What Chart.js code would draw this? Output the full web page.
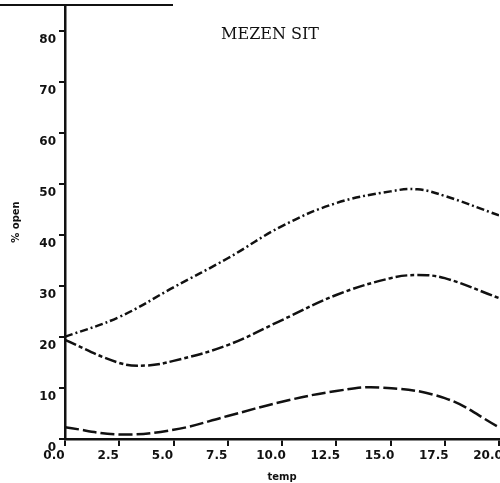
<!DOCTYPE html>
<html>
<head>
<meta charset="utf-8">
<script src="https://cdn.jsdelivr.net/npm/chart.js@4/dist/chart.umd.min.js"></script>
<style>
  html, body { margin: 0; padding: 0; background: #fff; }
  #wrap { width: 500px; height: 483px; }
</style>
</head>
<body>
<div id="wrap"><canvas id="c" width="500" height="483"></canvas></div>
<script>
// values
const upperTemp = [0, 2.5, 5, 7.5, 10, 12.5, 15, 16.25, 17.5, 20];
const upperOpen = [20.0, 23.9, 29.7, 35.4, 41.7, 46.2, 48.5, 48.9, 47.6, 43.8];

const middleTemp = [0, 2.5, 3.75, 5, 7.5, 10, 12.5, 15, 16.25, 17.5, 20];
const middleOpen = [19.4, 14.9, 14.4, 15.3, 18.4, 23.3, 28.2, 31.5, 32.1, 31.5, 27.6];

const lowerTemp = [0, 2.5, 5, 7.5, 10, 12.5, 14.5, 17.5, 20];
const lowerOpen = [2.3, 0.9, 1.8, 4.5, 7.3, 9.4, 10.1, 8.0, 2.3];

const xTicks = [0, 2.5, 5, 7.5, 10, 12.5, 15, 17.5, 20];
const yTicks = [0, 10, 20, 30, 40, 50, 60, 70, 80];

const toPoints = (xs, ys) => xs.map((x, i) => ({ x, y: ys[i] }));

const tickFont = { family: 'DejaVu Sans', size: 12, weight: 'bold' };
const titleFont = { family: 'DejaVu Sans', size: 10, weight: 'bold' };

// title inside the plot and the cut-off caption rule at the very top
const decor = {
    id: 'decor',
    afterDraw(chart) {
        const { ctx, scales } = chart;
        ctx.save();
        ctx.fillStyle = '#111';
        ctx.font = '16px "DejaVu Serif"';
        ctx.textAlign = 'center';
        ctx.textBaseline = 'middle';
        ctx.fillText('MEZEN SIT', scales.x.getPixelForValue(9.45), scales.y.getPixelForValue(79.1));
        ctx.strokeStyle = '#111';
        ctx.lineWidth = 2;
        ctx.beginPath();
        ctx.moveTo(0, 5);
        ctx.lineTo(173, 5);
        ctx.stroke();
        ctx.restore();
    }
};

new Chart(document.getElementById('c').getContext('2d'), {
    type: 'line',
    data: {
        datasets: [
            {
                label: 'upper',
                data: toPoints(upperTemp, upperOpen),
                borderColor: '#111',
                borderWidth: 2.5,
                borderDash: [8, 3, 2, 3],
                pointRadius: 0,
                tension: 0.4,
                fill: false,
            },
            {
                label: 'middle',
                data: toPoints(middleTemp, middleOpen),
                borderColor: '#111',
                borderWidth: 2.5,
                borderDash: [12, 3, 4, 3],
                pointRadius: 0,
                tension: 0.4,
                fill: false,
            },
            {
                label: 'lower',
                data: toPoints(lowerTemp, lowerOpen),
                borderColor: '#111',
                borderWidth: 2.5,
                borderDash: [14, 4],
                pointRadius: 0,
                tension: 0.4,
                fill: false,
            },
        ]
    },
    options: {
        responsive: false,
        maintainAspectRatio: false,
        animation: false,
        layout: { padding: { top: 5, right: 1, bottom: 0, left: 10 } },
        scales: {
            x: {
                type: 'linear',
                min: 0,
                max: 20,
                afterBuildTicks: (s) => { s.ticks = xTicks.map(v => ({ value: v })); },
                afterFit: (s) => { s.height = 44; s.paddingLeft = 0; s.paddingRight = 0; },
                ticks: {
                    color: '#111',
                    font: tickFont,
                    padding: 3,
                    labelOffset: -11,
                    maxRotation: 0,
                    callback: (v) => Number(v).toFixed(1),
                },
                grid: { drawOnChartArea: false, drawTicks: true, tickLength: 7, color: '#111', lineWidth: 2 },
                border: { color: '#111', width: 2.5 },
                title: { display: true, text: 'temp', color: '#111', font: titleFont, padding: { top: 0, bottom: 0 } },
            },
            y: {
                min: 0,
                max: 85,
                afterBuildTicks: (s) => { s.ticks = yTicks.map(v => ({ value: v })); },
                afterFit: (s) => { s.width = 55; s.paddingTop = 0; s.paddingBottom = 0; },
                ticks: {
                    color: '#111',
                    font: tickFont,
                    padding: 3,
                    labelOffset: 9,
                },
                grid: { drawOnChartArea: false, drawTicks: true, tickLength: 6, color: '#111', lineWidth: 2 },
                border: { color: '#111', width: 2.5 },
                title: { display: true, text: '% open', color: '#111', font: titleFont, padding: { top: 0, bottom: 8 } },
            }
        },
        plugins: {
            legend: { display: false },
            tooltip: { enabled: false },
        }
    },
    plugins: [decor]
});
</script>
</body>
</html>
